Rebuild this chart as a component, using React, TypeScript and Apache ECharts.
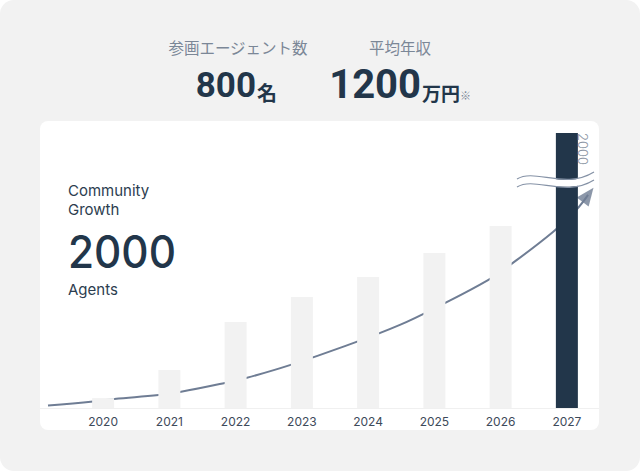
import React, { useEffect, useRef } from 'react';
import * as echarts from 'echarts';

const years = ['2020', '2021', '2022', '2023', '2024', '2025', '2026', '2027'];
const barValues = [36, 138, 313, 404, 476, 564, 662, 1000];
const highlightYear = '2027';
const brokenBarLabel = '2000';
const curveX = [-0.83, -0.15, 0.17, 0.84, 1.16, 1.84, 2.16, 2.82, 3.65, 4.48, 5.13, 5.81, 6.12, 6.79, 7.14, 7.32];
const curveY = [9, 24, 33, 47, 58, 91, 109, 156, 225, 302, 378, 465, 516, 640, 720, 775];
const arrowPoint = [7.32, 775];
const statLabels = ['参画エージェント数', '平均年収'];
const statValues = ['800', '1200'];
const statUnits = ['名', '万円'];
const growthTitle = ['Community', 'Growth'];
const growthValue = '2000';
const growthUnit = 'Agents';

const DARK = '#22364a';
const LIGHT = '#f2f2f2';
const CURVE = '#6f7d94';
const CJK = '"Noto Sans CJK JP", "Noto Sans", sans-serif';
const NUM = 'Roboto, "Noto Sans", sans-serif';
const LATIN = 'Inter, "Noto Sans", sans-serif';

export default function App() {
  const ref = useRef<HTMLDivElement>(null);
  useEffect(() => {
    if (!ref.current) return;
    const chart = echarts.init(ref.current, undefined, { renderer: 'svg' });
    const option: any = {
      animation: false,
      backgroundColor: '#ffffff',
      grid: [
        { left: 70, right: 40, top: 133, bottom: 63 },
        { left: 48, right: 40, top: 133, bottom: 63 },
      ],
      xAxis: [
        {
          type: 'category',
          gridIndex: 0,
          data: years,
          boundaryGap: true,
          axisLine: { show: false },
          axisTick: { show: false },
          axisLabel: { color: '#3d4a5a', fontSize: 12, fontFamily: LATIN, margin: 7 },
          splitLine: { show: false },
        },
        { type: 'value', gridIndex: 1, min: -0.83, max: 7.5, show: false },
      ],
      yAxis: [
        { type: 'value', gridIndex: 0, min: 0, max: 1000, show: false },
        { type: 'value', gridIndex: 1, min: 0, max: 1000, show: false },
      ],
      series: [
        {
          type: 'line',
          xAxisIndex: 1,
          yAxisIndex: 1,
          data: curveX.map((x, i) => [x, curveY[i]]),
          smooth: 0.4,
          clip: false,
          symbol: 'none',
          lineStyle: { color: CURVE, width: 2 },
          z: 1,
          silent: true,
        },
        {
          type: 'scatter',
          xAxisIndex: 1,
          yAxisIndex: 1,
          data: [arrowPoint],
          symbol: 'triangle',
          symbolSize: [15, 18],
          symbolRotate: -37,
          itemStyle: { color: CURVE },
          clip: false,
          z: 1,
          silent: true,
        },
        {
          type: 'bar',
          xAxisIndex: 0,
          yAxisIndex: 0,
          data: barValues.map((v, i) => ({
            value: v,
            itemStyle: { color: years[i] === highlightYear ? DARK : LIGHT },
          })),
          barWidth: 22,
          z: 3,
          silent: true,
        },
      ],
      graphic: [
        { type: 'rect', z: -100, shape: { x: 0, y: 0, width: 640, height: 471, r: 14 }, style: { fill: LIGHT } },
        { type: 'rect', z: -99, shape: { x: 40, y: 121, width: 559, height: 309, r: 8 }, style: { fill: '#ffffff' } },
        { type: 'line', z: -98, shape: { x1: 40, y1: 408.5, x2: 599, y2: 408.5 }, style: { stroke: '#f0f0f0', lineWidth: 1 } },
        // top stats
        { type: 'text', z: 10, x: 238, y: 47, style: { text: statLabels[0], fill: '#7b8797', fontSize: 15.5, fontFamily: CJK, align: 'center', verticalAlign: 'middle' } },
        { type: 'text', z: 10, x: 400, y: 47, style: { text: statLabels[1], fill: '#7b8797', fontSize: 15.5, fontFamily: CJK, align: 'center', verticalAlign: 'middle' } },
        { type: 'text', z: 10, x: 256, y: 85, style: { text: statValues[0], fill: DARK, fontSize: 35, fontWeight: 'bold', fontFamily: NUM, align: 'right', verticalAlign: 'middle' } },
        { type: 'text', z: 10, x: 257, y: 92, style: { text: statUnits[0], fill: DARK, fontSize: 20, fontWeight: 'bold', fontFamily: CJK, align: 'left', verticalAlign: 'middle' } },
        { type: 'text', z: 10, x: 421, y: 84, style: { text: statValues[1], fill: DARK, fontSize: 40, fontWeight: 'bold', fontFamily: NUM, align: 'right', verticalAlign: 'middle' } },
        { type: 'text', z: 10, x: 422, y: 92, style: { text: statUnits[1], fill: DARK, fontSize: 19, fontWeight: 'bold', fontFamily: CJK, align: 'left', verticalAlign: 'middle' } },
        { type: 'text', z: 10, x: 460, y: 95, style: { text: '※', fill: '#7b8797', fontSize: 11, fontFamily: CJK, align: 'left', verticalAlign: 'middle' } },
        // left growth text
        { type: 'text', z: 10, x: 68, y: 190, style: { text: growthTitle[0], fill: '#2c3d4f', fontSize: 15, fontFamily: LATIN, align: 'left', verticalAlign: 'middle' } },
        { type: 'text', z: 10, x: 68, y: 209, style: { text: growthTitle[1], fill: '#2c3d4f', fontSize: 15, fontFamily: LATIN, align: 'left', verticalAlign: 'middle' } },
        { type: 'text', z: 10, x: 68, y: 252, scaleX: 0.94, style: { text: growthValue, fill: DARK, fontSize: 45, fontWeight: 500, fontFamily: LATIN, align: 'left', verticalAlign: 'middle' } },
        { type: 'text', z: 10, x: 68, y: 289, style: { text: growthUnit, fill: '#2c3d4f', fontSize: 15, fontFamily: LATIN, align: 'left', verticalAlign: 'middle' } },
        // axis break
        { type: 'bezierCurve', z: 20, shape: { x1: 517, y1: 183, cpx1: 535, cpy1: 172, cpx2: 565, cpy2: 194, x2: 594, y2: 176 }, style: { stroke: '#ffffff', lineWidth: 7, fill: null } },
        { type: 'bezierCurve', z: 21, shape: { x1: 517, y1: 179, cpx1: 535, cpy1: 168, cpx2: 565, cpy2: 190, x2: 594, y2: 172 }, style: { stroke: '#8592a6', lineWidth: 1.2, fill: null } },
        { type: 'bezierCurve', z: 21, shape: { x1: 517, y1: 187, cpx1: 535, cpy1: 176, cpx2: 565, cpy2: 198, x2: 594, y2: 180 }, style: { stroke: '#8592a6', lineWidth: 1.2, fill: null } },
        { type: 'text', z: 21, x: 583, y: 133, rotation: -Math.PI / 2, style: { text: brokenBarLabel, fill: '#8a94a2', fontSize: 13, fontWeight: 300, fontFamily: LATIN, align: 'left', verticalAlign: 'middle' } },
      ],
    };
    chart.setOption(option);
    return () => chart.dispose();
  }, []);
  return <div ref={ref} style={{ position: 'fixed', left: 0, top: 0, width: 640, height: 471 }} />;
}
